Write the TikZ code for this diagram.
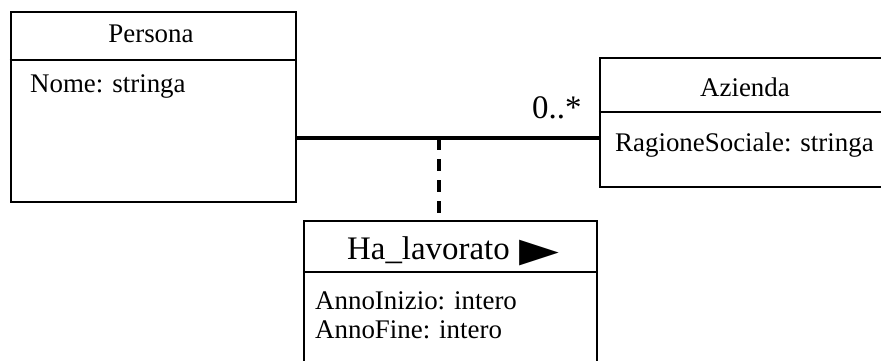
\documentclass[tikz,border=0pt]{standalone}
\usepackage{fontspec}
\setmainfont{Liberation Serif}
\newfontfamily\symfont{DejaVu Sans}
\tikzset{
  classbox/.style={draw, line width=2.5bp, inner sep=0pt},
  divider/.style={line width=2.2bp},
  assoc/.style={line width=4bp},
  linkline/.style={line width=4bp, dash pattern=on 12bp off 9bp},
  attr/.style={anchor=base west, inner sep=0pt, font=\fontsize{27}{30}\selectfont},
  title/.style={anchor=base, inner sep=0pt, font=\fontsize{27}{30}\selectfont},
}
\begin{document}
\begin{tikzpicture}[x=1bp,y=-1bp]
\useasboundingbox (0,0) rectangle (881,360);
% boxes
\node[classbox, minimum width=285bp, minimum height=190bp] (persona) at (153.5,107) {};
\node[classbox, minimum width=290bp, minimum height=129bp] (azienda) at (745,122.5) {};
\node[classbox, minimum width=293bp, minimum height=150bp] (hala) at (450.5,296) {};
% dividers
\draw[divider] (persona.west |- 0,60) -- (persona.east |- 0,60);
\draw[divider] (azienda.west |- 0,112) -- (azienda.east |- 0,112);
\draw[divider] (hala.west |- 0,272) -- (hala.east |- 0,272);
% texts
\node[title] (tp) at (151,42) {Persona};
\node[attr] (ap) at (30,92) {Nome: stringa};
\node[title] (ta) at (745,96.5) {Azienda};
\node[attr] (aa) at (615,151) {RagioneSociale: stringa};
\node[attr, font=\fontsize{33}{36}\selectfont] (th) at (347,259) {Ha\_lavorato\hspace{10bp}{\symfont\fontsize{52}{52}\selectfont\raisebox{-7bp}{►}}};
\node[attr] (ah1) at (315,309.5) {AnnoInizio: intero};
\node[attr] (ah2) at (315,338) {AnnoFine: intero};
\node[attr, font=\fontsize{33}{36}\selectfont] (mult) at (532,118) {0..*};
% connectors
\coordinate (j) at (439,138);
\draw[assoc] (persona.east |- j) -- (azienda.west |- j);
\draw[linkline] (j) -- (j |- hala.north);
\end{tikzpicture}
\end{document}
